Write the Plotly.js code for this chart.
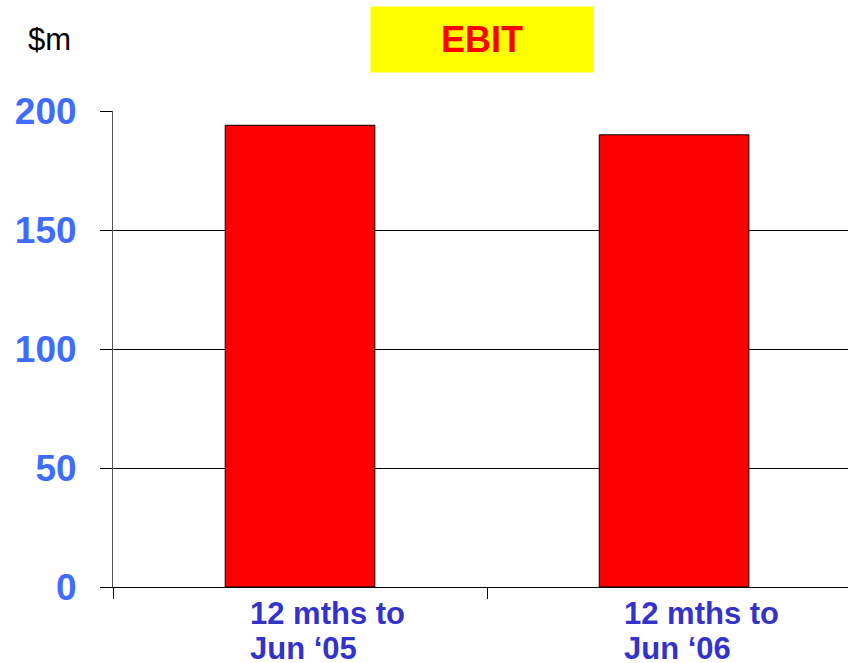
<!DOCTYPE html>
<html>
<head>
<meta charset="utf-8">
<script src="https://cdn.plot.ly/plotly-3.0.1.min.js"></script>
<style>html,body{margin:0;padding:0;background:#fff;}#chart{width:848px;height:663px;}</style>
</head>
<body>
<div id="chart"></div>
<script>
const categories = ["12 mths to<br>Jun \u201805", "12 mths to<br>Jun \u201806"];
const ebitValues = [194, 190];
const yTickValues = [0, 50, 100, 150, 200];
const chartTitle = "EBIT";
const unitLabel = "$m";

const FONT = "Liberation Sans, Arial, sans-serif";

const trace = {
  type: "bar",
  x: [0, 1],
  y: ebitValues,
  width: 0.4,
  marker: { color: "#FF0000", line: { color: "#000000", width: 1 } },
  hoverinfo: "skip"
};

// Category labels: one annotation per text line for tighter line spacing
const labelAnnotations = [];
categories.forEach((c, i) => {
  c.split("<br>").forEach((line, j) => {
    labelAnnotations.push({
      xref: "x", yref: "paper",
      x: i, y: 0,
      xanchor: "left", yanchor: "top",
      xshift: -52, yshift: -7 - 35 * j,
      align: "left",
      showarrow: false,
      text: "<b>" + line + "</b>",
      font: { family: FONT, size: 31, color: "#3333CC" }
    });
  });
});

const layout = {
  width: 848, height: 663,
  margin: { l: 113, r: 0, t: 111, b: 76, pad: 0 },
  paper_bgcolor: "#ffffff",
  plot_bgcolor: "#ffffff",
  showlegend: false,
  xaxis: {
    type: "linear",
    range: [-0.5, 1.465],
    tickmode: "array",
    tickvals: [-0.5, 0.5, 1.5],
    ticks: "outside",
    ticklen: 11,
    tickcolor: "#000000",
    tickwidth: 1,
    showticklabels: false,
    showgrid: false,
    zeroline: false,
    showline: true,
    linecolor: "#000000",
    linewidth: 1
  },
  yaxis: {
    range: [0, 200],
    tickmode: "array",
    tickvals: yTickValues,
    ticktext: yTickValues.map(v => "<b>" + v + "</b>"),
    ticks: "outside",
    ticklen: 12,
    tickcolor: "#000000",
    tickwidth: 1,
    ticklabelstandoff: 16,
    tickfont: { family: FONT, size: 37, color: "#3F6BFF" },
    showgrid: true,
    gridcolor: "#000000",
    gridwidth: 1,
    zeroline: false,
    showline: true,
    linecolor: "#555555",
    linewidth: 1
  },
  annotations: labelAnnotations.concat([
    {
      xref: "paper", yref: "paper",
      x: 0.5027, y: 1.1495,
      xanchor: "center", yanchor: "middle",
      showarrow: false,
      width: 222, height: 65,
      bgcolor: "#FFFF00",
      borderpad: 0,
      text: "<b>" + chartTitle + "</b>",
      font: { family: FONT, size: 36, color: "#FF0000" }
    },
    {
      xref: "paper", yref: "paper",
      x: -0.087, y: 1.1495,
      xanchor: "center", yanchor: "middle",
      showarrow: false,
      text: unitLabel,
      font: { family: FONT, size: 31, color: "#000000" }
    }
  ])
};

Plotly.newPlot("chart", [trace], layout, { displayModeBar: false, staticPlot: true });
</script>
</body>
</html>
